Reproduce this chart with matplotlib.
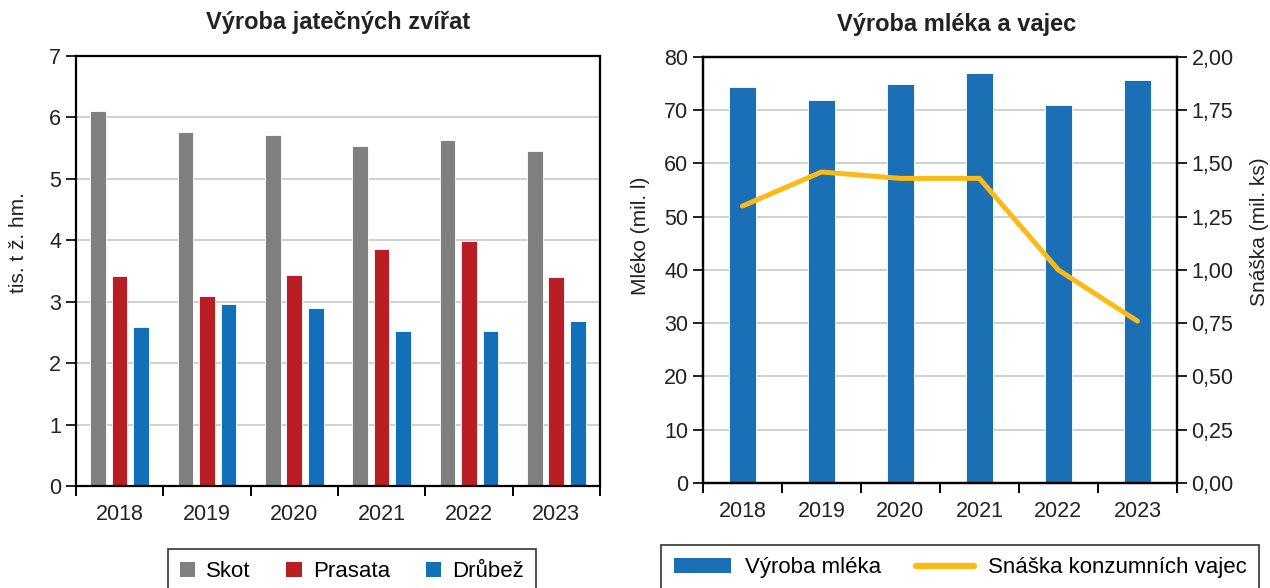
import matplotlib
matplotlib.use('Agg')
import matplotlib.pyplot as plt
import numpy as np
from matplotlib.ticker import FuncFormatter, MultipleLocator
from matplotlib.patches import Patch
from matplotlib.lines import Line2D

# data
years = ['2018', '2019', '2020', '2021', '2022', '2023']
skot = [6.10, 5.77, 5.72, 5.54, 5.64, 5.46]
prasata = [3.42, 3.10, 3.43, 3.86, 3.99, 3.41]
drubez = [2.59, 2.97, 2.89, 2.52, 2.52, 2.68]
mleko = [74.4, 72.0, 74.9, 77.0, 70.9, 75.7]
vejce = [1.30, 1.46, 1.43, 1.43, 1.00, 0.76]

plt.rcParams['font.family'] = ['Liberation Sans', 'DejaVu Sans']
plt.rcParams['font.size'] = 15

c_gray = '#808080'
c_red = '#BA1E25'
c_blue = '#1170B8'
c_milk = '#1B6FB5'
c_yellow = '#FBBA16'
grid_c = '#C8C8C8'

fig = plt.figure(figsize=(12.7, 5.88), dpi=100)
ax1 = fig.add_axes([0.0598, 0.1735, 0.4126, 0.7313])
ax2 = fig.add_axes([0.5535, 0.1786, 0.3732, 0.7245])

x = np.arange(len(years))


def style_axes(ax):
    for s in ax.spines.values():
        s.set_linewidth(1.6)
        s.set_color('black')
    ax.set_xlim(-0.5, len(years) - 0.5)
    ax.set_xticks(np.arange(len(years) + 1) - 0.5)
    ax.set_xticklabels([])
    ax.set_xticks(x, minor=True)
    ax.set_xticklabels(years, minor=True)
    ax.tick_params(axis='x', which='major', direction='out', length=7, width=1.4)
    ax.tick_params(axis='x', which='minor', length=0, pad=13, colors='#222222', labelsize=15.5)
    ax.tick_params(axis='y', direction='out', length=7, width=1.4, colors='#222222', labelsize=15.5)
    ax.yaxis.grid(True, color=grid_c, linewidth=1.2)
    ax.set_axisbelow(True)


# left chart
w = 0.18
off = 0.247
ax1.bar(x - off, skot, w, color=c_gray, edgecolor='white', linewidth=0.6, label='Skot')
ax1.bar(x, prasata, w, color=c_red, edgecolor='white', linewidth=0.6, label='Prasata')
ax1.bar(x + off, drubez, w, color=c_blue, edgecolor='white', linewidth=0.6, label='Drůbež')
style_axes(ax1)
ax1.set_ylim(0, 7)
ax1.yaxis.set_major_locator(MultipleLocator(1))
ax1.set_ylabel('tis. t ž. hm.', fontsize=15, color='#222222')
ax1.yaxis.set_label_coords(-0.092, 0.565)

fig.text(338 / 1270, 1 - 23 / 588, 'Výroba jatečných zvířat', ha='center', va='center',
         fontsize=17, fontweight='bold', color='#222222')

h1 = [Patch(facecolor=c, edgecolor='none') for c in (c_gray, c_red, c_blue)]
leg1 = fig.legend(h1, ['Skot', 'Prasata', 'Drůbež'], loc='upper center',
                  bbox_to_anchor=(352 / 1270, 1 - 538 / 588), ncol=3, frameon=True,
                  fancybox=False, edgecolor='black', handlelength=0.7, handleheight=0.7,
                  columnspacing=1.6, handletextpad=0.5, borderpad=0.55, fontsize=16)
leg1.get_frame().set_linewidth(1.2)

# right chart
ax2.bar(x, mleko, 0.35, color=c_milk, edgecolor='white', linewidth=0.6)
style_axes(ax2)
ax2.set_ylim(0, 80)
ax2.yaxis.set_major_locator(MultipleLocator(10))
ax2.set_ylabel('Mléko (mil. l)', fontsize=15, color='#222222')
ax2.yaxis.set_label_coords(-0.112, 0.58)

ax3 = ax2.twinx()
ax3.plot(x, vejce, color=c_yellow, linewidth=3.6, solid_capstyle='round')
ax3.set_ylim(0, 2)
ax3.yaxis.set_major_locator(MultipleLocator(0.25))
ax3.yaxis.set_major_formatter(FuncFormatter(lambda v, p: f'{v:.2f}'.replace('.', ',')))
ax3.tick_params(axis='y', direction='out', length=7, width=1.4, colors='#222222', labelsize=15.5)
for s in ax3.spines.values():
    s.set_linewidth(1.6)
ax3.set_ylabel('Snáška (mil. ks)', fontsize=15, rotation=90, color='#222222')
ax3.yaxis.set_label_coords(1.155, 0.59)

fig.text(957 / 1270, 1 - 25 / 588, 'Výroba mléka a vajec', ha='center', va='center',
         fontsize=17, fontweight='bold', color='#222222')

h2 = [Patch(facecolor=c_milk, edgecolor='none'),
      Line2D([0], [0], color=c_yellow, linewidth=4.5, solid_capstyle='round')]
leg2 = fig.legend(h2, ['Výroba mléka', 'Snáška konzumních vajec'], loc='upper center',
                  bbox_to_anchor=(960 / 1270, 1 - 534 / 588), ncol=2, frameon=True,
                  fancybox=False, edgecolor='black', handlelength=2.6, handleheight=0.7,
                  columnspacing=1.6, handletextpad=0.6, borderpad=0.55, fontsize=16)
leg2.get_frame().set_linewidth(1.2)

fig.savefig('out.png', dpi=100)
